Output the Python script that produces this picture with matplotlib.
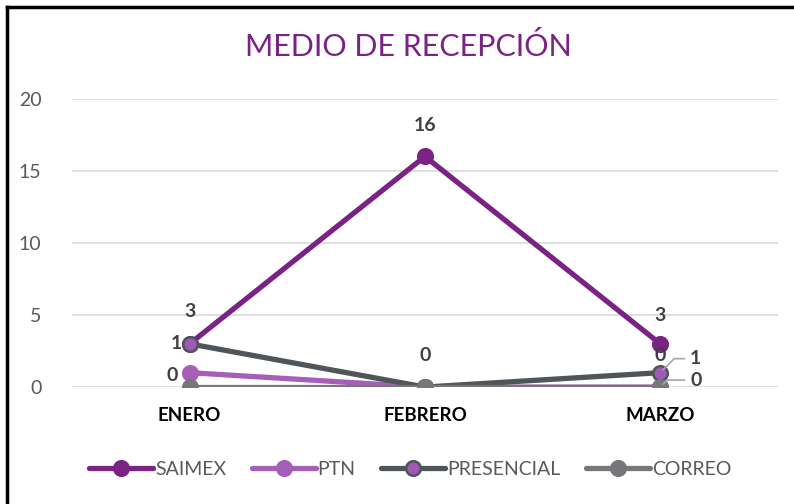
import matplotlib
matplotlib.use('Agg')
import matplotlib.pyplot as plt
from matplotlib.lines import Line2D

plt.rcParams['font.family'] = ['Lato', 'DejaVu Sans']

meses = ['ENERO', 'FEBRERO', 'MARZO']
saimex = [3, 16, 3]
ptn = [1, 0, 0]
presencial = [3, 0, 1]
correo = [0, 0, 0]

series = [
    ('SAIMEX', saimex, '#7B2285', '#7B2285'),
    ('PTN', ptn, '#A65FB8', '#A65FB8'),
    ('PRESENCIAL', presencial, '#4F5558', '#A05AB5'),
    ('CORREO', correo, '#76777A', '#76777A'),
]

fig = plt.figure(figsize=(7.94, 5.04), dpi=100)
ax = fig.add_axes([0.0907, 0.232, 0.889, 0.572])

x = list(range(len(meses)))
for name, vals, col, fill in series:
    ax.plot(x, vals, color=col, lw=3.8, marker='o', ms=10.5,
            mfc=fill, mec=col, mew=1.8, label=name, solid_capstyle='round')

ax.set_xlim(-0.5, 2.5)
ax.set_ylim(0, 20)
ax.set_yticks([0, 5, 10, 15, 20])
ax.grid(axis='y', color='#D9D9D9', lw=1.2)
ax.set_axisbelow(True)
for s in ax.spines.values():
    s.set_visible(False)
ax.tick_params(length=0)
ax.tick_params(axis='y', labelsize=14, labelcolor='#595959', pad=22)
ax.set_xticks(x)
ax.set_xticklabels(meses, fontsize=13.5, fontweight='bold', color='black')
ax.tick_params(axis='x', pad=14)

# data labels: (values, index, dx px, dy px, ha, leader)
etiquetas = [
    (saimex, 0, 0, 32, 'center', False),
    (saimex, 1, 0, 31, 'center', False),
    (saimex, 2, 0, 28, 'center', False),
    (ptn, 0, -8, 29, 'right', False),
    (correo, 0, -12, 12, 'right', False),
    (correo, 1, 0, 32, 'center', False),
    (ptn, 2, 0, 32, 'center', False),
    (presencial, 2, 30, 14, 'left', True),
    (correo, 2, 30, 7, 'left', True),
]
for vals, i, dx, dy, ha, leader in etiquetas:
    kw = {}
    if leader:
        kw['arrowprops'] = dict(arrowstyle='-', color='#A6A6A6', lw=1.2,
                                shrinkA=2, shrinkB=3,
                                connectionstyle='angle,angleA=0,angleB=45,rad=0')
    ax.annotate(str(vals[i]), (x[i], vals[i]), xytext=(dx, dy),
                textcoords='offset pixels', ha=ha, va='center',
                fontsize=14, fontweight='bold', color='#404040', **kw)

ax.legend(loc='center', bbox_to_anchor=(0.479, -0.285),
          ncol=4, frameon=False, fontsize=14, handlelength=3.3,
          handletextpad=0.1, columnspacing=1.3, labelcolor='#595959')

fig.text(0.514, 0.908, 'MEDIO DE RECEPCIÓN', ha='center', va='center',
         fontsize=22, color='#7B2285')

fig.add_artist(Line2D([7 / 794, 7 / 794], [0, 1 - 7 / 504], color='black', lw=2.5))
fig.add_artist(Line2D([7 / 794, 1], [1 - 7 / 504, 1 - 7 / 504], color='black', lw=2.5))

fig.savefig('out.png', dpi=100)
